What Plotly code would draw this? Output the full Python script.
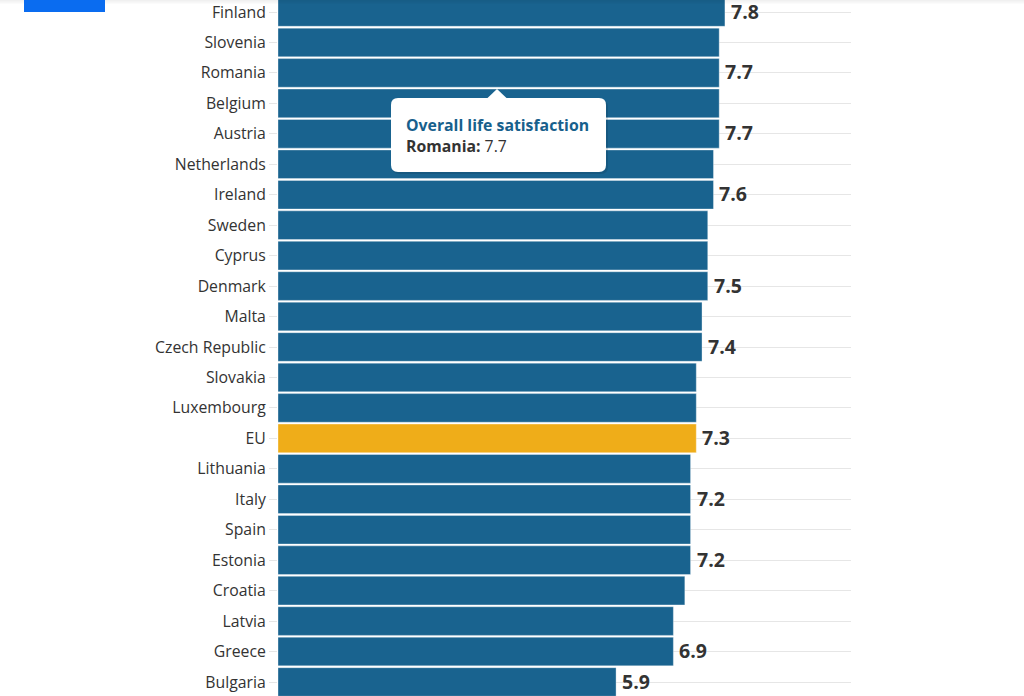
import plotly.graph_objects as go

countries = ["Finland", "Slovenia", "Romania", "Belgium", "Austria", "Netherlands",
             "Ireland", "Sweden", "Cyprus", "Denmark", "Malta", "Czech Republic",
             "Slovakia", "Luxembourg", "EU", "Lithuania", "Italy", "Spain", "Estonia",
             "Croatia", "Latvia", "Greece", "Bulgaria"]
satisfaction = [7.8, 7.7, 7.7, 7.7, 7.7, 7.6, 7.6, 7.5, 7.5, 7.5, 7.4, 7.4,
                7.3, 7.3, 7.3, 7.2, 7.2, 7.2, 7.2, 7.1, 6.9, 6.9, 5.9]
labelled = ["Finland", "Romania", "Austria", "Ireland", "Denmark", "Czech Republic",
            "EU", "Italy", "Estonia", "Greece", "Bulgaria"]
tooltip_country = "Romania"
tooltip_value = 7.7
series_name = "Overall life satisfaction"

BLUE = "#19638f"
GOLD = "#efad19"
W, H = 1024, 696

colors = [GOLD if c == "EU" else BLUE for c in countries]

fig = go.Figure()
fig.add_trace(go.Bar(
    x=satisfaction, y=countries, orientation="h",
    marker=dict(color=colors, line=dict(color="rgba(255,255,255,0.35)", width=1)),
    width=0.94, hoverinfo="skip",
))

annotations = []
for c, v in zip(countries, satisfaction):
    if c in labelled:
        annotations.append(dict(
            x=v, y=c, xref="x", yref="y", text=f"<b>{v:.1f}</b>",
            showarrow=False, xanchor="left", yanchor="middle", xshift=4, yshift=1,
            font=dict(family="Open Sans", size=19.5, color="#333333"),
        ))

def px(x):
    return x / W

def py(y):
    return 1 - y / H

shapes = []
# header shadow
for i, op in enumerate([0.06, 0.045, 0.03, 0.015]):
    shapes.append(dict(type="rect", xref="paper", yref="paper",
                       x0=0, x1=1, y0=py(i + 1), y1=py(0) if i == 0 else py(i),
                       fillcolor=f"rgba(0,0,0,{op})", line=dict(width=0), layer="above"))
# blue header block
shapes.append(dict(type="rect", xref="paper", yref="paper",
                   x0=px(24), x1=px(105), y0=py(12), y1=py(0),
                   fillcolor="#0a6cf0", line=dict(width=0), layer="above"))

# tooltip box with rounded corners
x0, x1, y0, y1, r = 391, 606, 98, 172, 7
def rounded(x0, x1, y0, y1, r):
    return (f"M {px(x0 + r)},{py(y0)} L {px(x1 - r)},{py(y0)} "
            f"Q {px(x1)},{py(y0)} {px(x1)},{py(y0 + r)} "
            f"L {px(x1)},{py(y1 - r)} Q {px(x1)},{py(y1)} {px(x1 - r)},{py(y1)} "
            f"L {px(x0 + r)},{py(y1)} Q {px(x0)},{py(y1)} {px(x0)},{py(y1 - r)} "
            f"L {px(x0)},{py(y0 + r)} Q {px(x0)},{py(y0)} {px(x0 + r)},{py(y0)} Z")
shapes.append(dict(type="path", xref="paper", yref="paper",
                   path=rounded(x0 + 1, x1 + 2, y0 + 2, y1 + 2, r),
                   fillcolor="rgba(0,0,0,0.10)", line=dict(width=0), layer="above"))
shapes.append(dict(type="path", xref="paper", yref="paper",
                   path=rounded(x0, x1, y0, y1, r),
                   fillcolor="white", line=dict(width=0), layer="above"))
shapes.append(dict(type="path", xref="paper", yref="paper",
                   path=f"M {px(487)},{py(98.5)} L {px(497)},{py(89)} L {px(507)},{py(98.5)} Z",
                   fillcolor="white", line=dict(width=0), layer="above"))

annotations.append(dict(xref="paper", yref="paper", x=px(404), y=py(124.5),
                        xanchor="left", yanchor="middle", showarrow=False,
                        text=f"<b>{series_name}</b>",
                        font=dict(family="Open Sans", size=15.8, color="#17608c")))
annotations.append(dict(xref="paper", yref="paper", x=px(404), y=py(146.5),
                        xanchor="left", yanchor="middle", showarrow=False,
                        text=f"<b>{tooltip_country}:</b> {tooltip_value}",
                        font=dict(family="Open Sans", size=15.8, color="#333333")))

n = len(countries)
row = (682 - 12) / (n - 1)
top = -12 / row
bottom = (n - 1) + (H - 682) / row

fig.update_layout(
    width=W, height=H,
    margin=dict(l=0, r=0, t=0, b=0),
    paper_bgcolor="white", plot_bgcolor="white",
    showlegend=False,
    bargap=0.06,
    xaxis=dict(domain=[278 / W, 851 / W], range=[0, 10], showgrid=False,
               showticklabels=False, zeroline=False, showline=False, ticks=""),
    yaxis=dict(range=[bottom, top], showgrid=True, gridcolor="#e6e6e6", gridwidth=1,
               ticks="outside", ticklen=8, tickcolor="#e6e6e6", tickwidth=1,
               tickfont=dict(family="Open Sans", size=15.8, color="#333333"),
               showline=False, zeroline=False, ticklabelstandoff=0),
    shapes=shapes,
    annotations=annotations,
)

fig.write_html("out.html")
